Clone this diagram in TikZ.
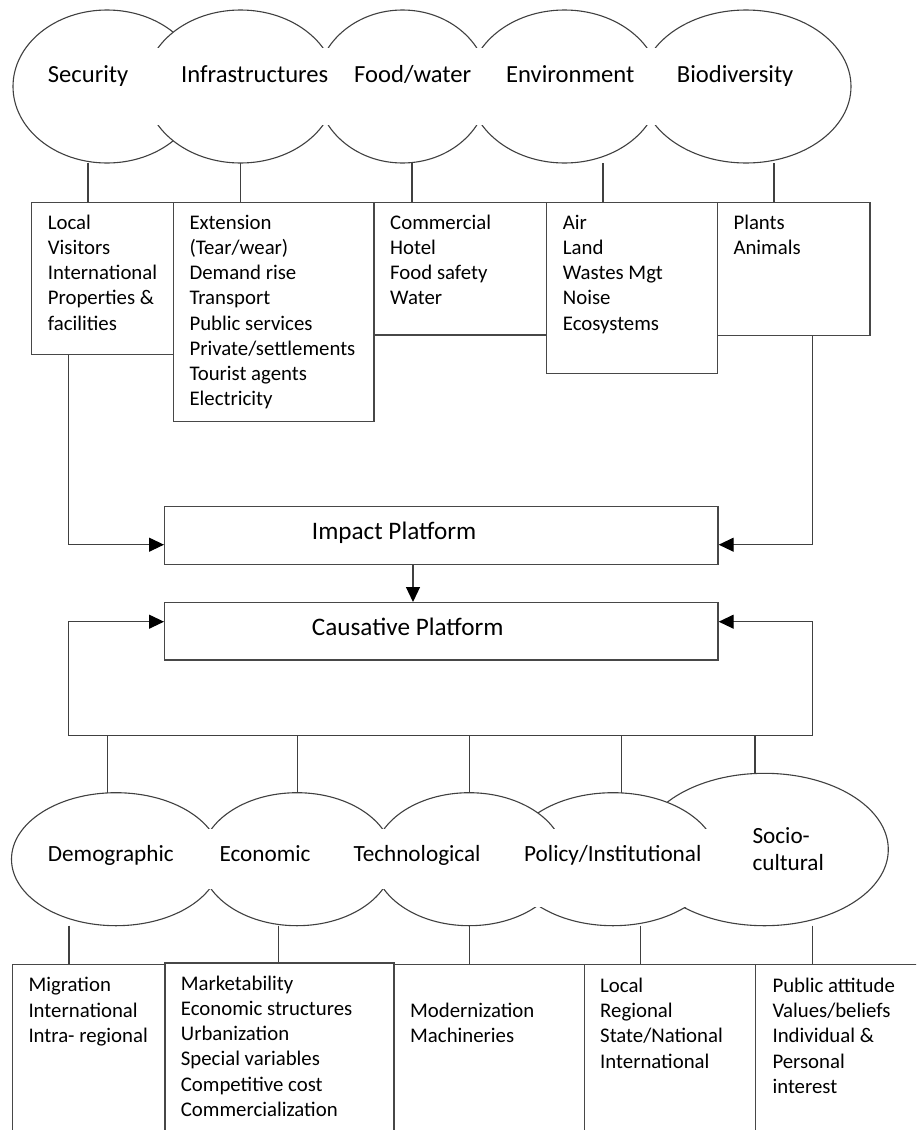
\documentclass[tikz,border=0pt]{standalone}
\usepackage{fontspec}
\setmainfont{Carlito}
\usetikzlibrary{shapes.geometric,arrows.meta}
\begin{document}
\begin{tikzpicture}[x=1pt,y=-1pt,
  ln/.style={draw=black!75,line width=1.2pt},
  arr/.style={ln,-{Triangle[length=15pt,width=14pt,color=black]}},
  ell/.style={ellipse,draw=black!75,line width=1.1pt,fill=white,inner sep=0pt,outer sep=0pt},
  bx/.style={rectangle,draw=black!72,line width=1.4pt,fill=white,inner sep=0pt,anchor=north west},
  ttl/.style={inner sep=0pt,anchor=base west,font=\fontsize{24.6}{29}\selectfont},
  btl/.style={inner sep=0pt,anchor=base west,font=\fontsize{23.2}{28.3}\selectfont,align=left},
  ptl/.style={inner sep=0pt,anchor=base west,font=\fontsize{25.2}{30}\selectfont},
  lst/.style={inner sep=0pt,anchor=north west,align=left,font=\fontsize{20.8}{25.2}\selectfont},
  ]
\clip (0,0) rectangle (916,1130);
\fill[white] (0,0) rectangle (916,1130);

% ---------- top row ellipses
\node[ell,minimum width=188pt,minimum height=153pt] (sec) at (107,86.5) {};
\node[ell,minimum width=191pt,minimum height=153pt] (inf) at (240.5,86.5) {};
\node[ell,minimum width=172pt,minimum height=153pt] (food) at (402.5,86.5) {};
\node[ell,minimum width=191pt,minimum height=153pt] (env) at (564.5,86.5) {};
\node[ell,minimum width=210pt,minimum height=153pt] (bio) at (746,86.5) {};
\fill[white] (140,47.5) rectangle (665,125);
\node[ttl] (tsec) at (47.7,82) {Security};
\node[ttl] (tinf) at (181,82) {Infrastructures};
\node[ttl] (tfood) at (354,82) {Food/water};
\node[ttl] (tenv) at (506,82) {Environment};
\node[ttl] (tbio) at (676.7,82) {Biodiversity};

% ---------- top boxes
\node[bx,minimum width=142.3pt,minimum height=152.3pt] (sbox) at (30.7,201.7) {};
\node[bx,minimum width=200.6pt,minimum height=219.3pt] (ibox) at (172.7,201.7) {};
\node[bx,minimum width=172.4pt,minimum height=132.6pt] (fbox) at (373.3,201.7) {};
\node[bx,minimum width=171pt,minimum height=171pt] (ebox) at (545.7,201.7) {};
\node[bx,minimum width=152.6pt,minimum height=133.3pt] (bbox) at (716.7,201.7) {};

\draw[ln] ([xshift=-19pt]sec.south) -- ([xshift=-19pt]sec.south |- sbox.north);
\draw[ln] ([xshift=0.2pt]inf.south) -- ([xshift=0.2pt]inf.south |- ibox.north);
\draw[ln] ([xshift=9.5pt]food.south) -- ([xshift=9.5pt]food.south |- fbox.north);
\draw[ln] ([xshift=38.5pt]env.south) -- ([xshift=38.5pt]env.south |- ebox.north);
\draw[ln] ([xshift=28pt]bio.south) -- ([xshift=28pt]bio.south |- bbox.north);

\node[lst] (lsec) at (47.7,211.4) {\strut Local\\Visitors\\International\\Properties \&\\facilities};
\node[lst] (linf) at (189.3,211.4) {\strut Extension\\(Tear/wear)\\Demand rise\\Transport\\Public services\\Private/settlements\\Tourist agents\\Electricity};
\node[lst] (lfood) at (390,211.4) {\strut Commercial\\Hotel\\Food safety\\Water};
\node[lst] (lenv) at (562.7,211.4) {\strut Air\\Land\\Wastes Mgt\\Noise\\Ecosystems};
\node[lst] (lbio) at (733.3,211.4) {\strut Plants\\Animals};

% ---------- platforms
\node[bx,minimum width=553.3pt,minimum height=58pt] (imp) at (164,506) {};
\node[ptl] (timp) at (311.7,539.3) {Impact Platform};
\node[bx,minimum width=553.3pt,minimum height=57.3pt] (cau) at (164,602) {};
\node[ptl] (tcau) at (311.7,635) {Causative Platform};

\draw[arr] ([xshift=37.6pt]sbox.south west) |- ([yshift=-9pt]imp.west);
\draw[arr] ([xshift=95.6pt]bbox.south west) |- ([yshift=-9pt]imp.east);
\draw[arr] ([xshift=-28.35pt]imp.south) -- ([xshift=-28.35pt]cau.north);

% ---------- bus
\coordinate (busL) at (68.3,735.7);
\coordinate (busR) at (812.3,735.7);
\draw[ln] (busL) -- (busR);
\draw[arr] (busL) |- ([yshift=9.65pt]cau.west);
\draw[arr] (busR) |- ([yshift=9.65pt]cau.east);

% ---------- bottom ellipses
\node[ell,minimum width=247.8pt,minimum height=152.4pt] (soc) at (764.4,849.5) {};
\node[ell,minimum width=208.8pt,minimum height=133pt] (pol) at (613,859.2) {};
\node[ell,minimum width=191pt,minimum height=133pt] (tec) at (469.2,859.2) {};
\node[ell,minimum width=192pt,minimum height=133pt] (eco) at (297,859.2) {};
\node[ell,minimum width=209pt,minimum height=133pt] (dem) at (116,859.2) {};
\fill[white] (150,829.3) rectangle (500,889.3);
\fill[white] (500,829.3) rectangle (720,907);
\node[btl] (tdem) at (47.7,861.7) {Demographic};
\node[btl] (teco) at (219.3,861.7) {Economic};
\node[btl] (ttec) at (353.3,861.7) {Technological};
\node[btl] (tpol) at (524,861.7) {Policy/Institutional};
\node[btl] (tsoc1) at (752.3,843) {Socio-};
\node[btl] (tsoc2) at (752.3,870.5) {cultural};

\draw[ln] ([xshift=-8.7pt]dem.north) -- ([xshift=-8.7pt]dem.north |- busL);
\draw[ln] ([xshift=0.7pt]eco.north) -- ([xshift=0.7pt]eco.north |- busL);
\draw[ln] ([xshift=0.1pt]tec.north) -- ([xshift=0.1pt]tec.north |- busL);
\draw[ln] ([xshift=8.7pt]pol.north) -- ([xshift=8.7pt]pol.north |- busL);
\draw[ln] ([xshift=-9.4pt]soc.north) -- ([xshift=-9.4pt]soc.north |- busL);

% ---------- bottom boxes
\node[bx,minimum width=152.6pt,minimum height=200pt] (dbox) at (11.7,964) {};
\node[bx,minimum width=190.7pt,minimum height=200pt] (tbox) at (393.3,964) {};
\node[bx,minimum width=171pt,minimum height=200pt] (pbox) at (584,964) {};
\node[bx,minimum width=200pt,minimum height=200pt] (scbox) at (755,964) {};
\node[bx,minimum width=229pt,minimum height=200pt] (ebx) at (164.3,962.3) {};

\draw[ln] ([xshift=-47pt]dem.south) -- ([xshift=-47pt]dem.south |- dbox.north);
\draw[ln] ([xshift=-18.7pt]eco.south) -- ([xshift=-18.7pt]eco.south |- ebx.north);
\draw[ln] ([xshift=0.1pt]tec.south) -- ([xshift=0.1pt]tec.south |- tbox.north);
\draw[ln] ([xshift=27.7pt]pol.south) -- ([xshift=27.7pt]pol.south |- pbox.north);
\draw[ln] ([xshift=47.9pt]soc.south) -- ([xshift=47.9pt]soc.south |- scbox.north);

\node[lst] (ldem) at (28.3,974.1) {\strut Migration\\International\\Intra- regional};
\node[lst] (leco) at (180.7,972.4) {\strut Marketability\\Economic structures\\Urbanization\\Special variables\\Competitive cost\\Commercialization};
\node[lst] (ltec) at (410,999.7) {\strut Modernization\\Machineries};
\node[lst] (lpol) at (600,974.7) {\strut Local\\Regional\\State/National\\International};
\node[lst] (lsoc) at (772.3,974.7) {\strut Public attitude\\Values/beliefs\\Individual \&\\Personal\\interest};
\end{tikzpicture}
\end{document}
